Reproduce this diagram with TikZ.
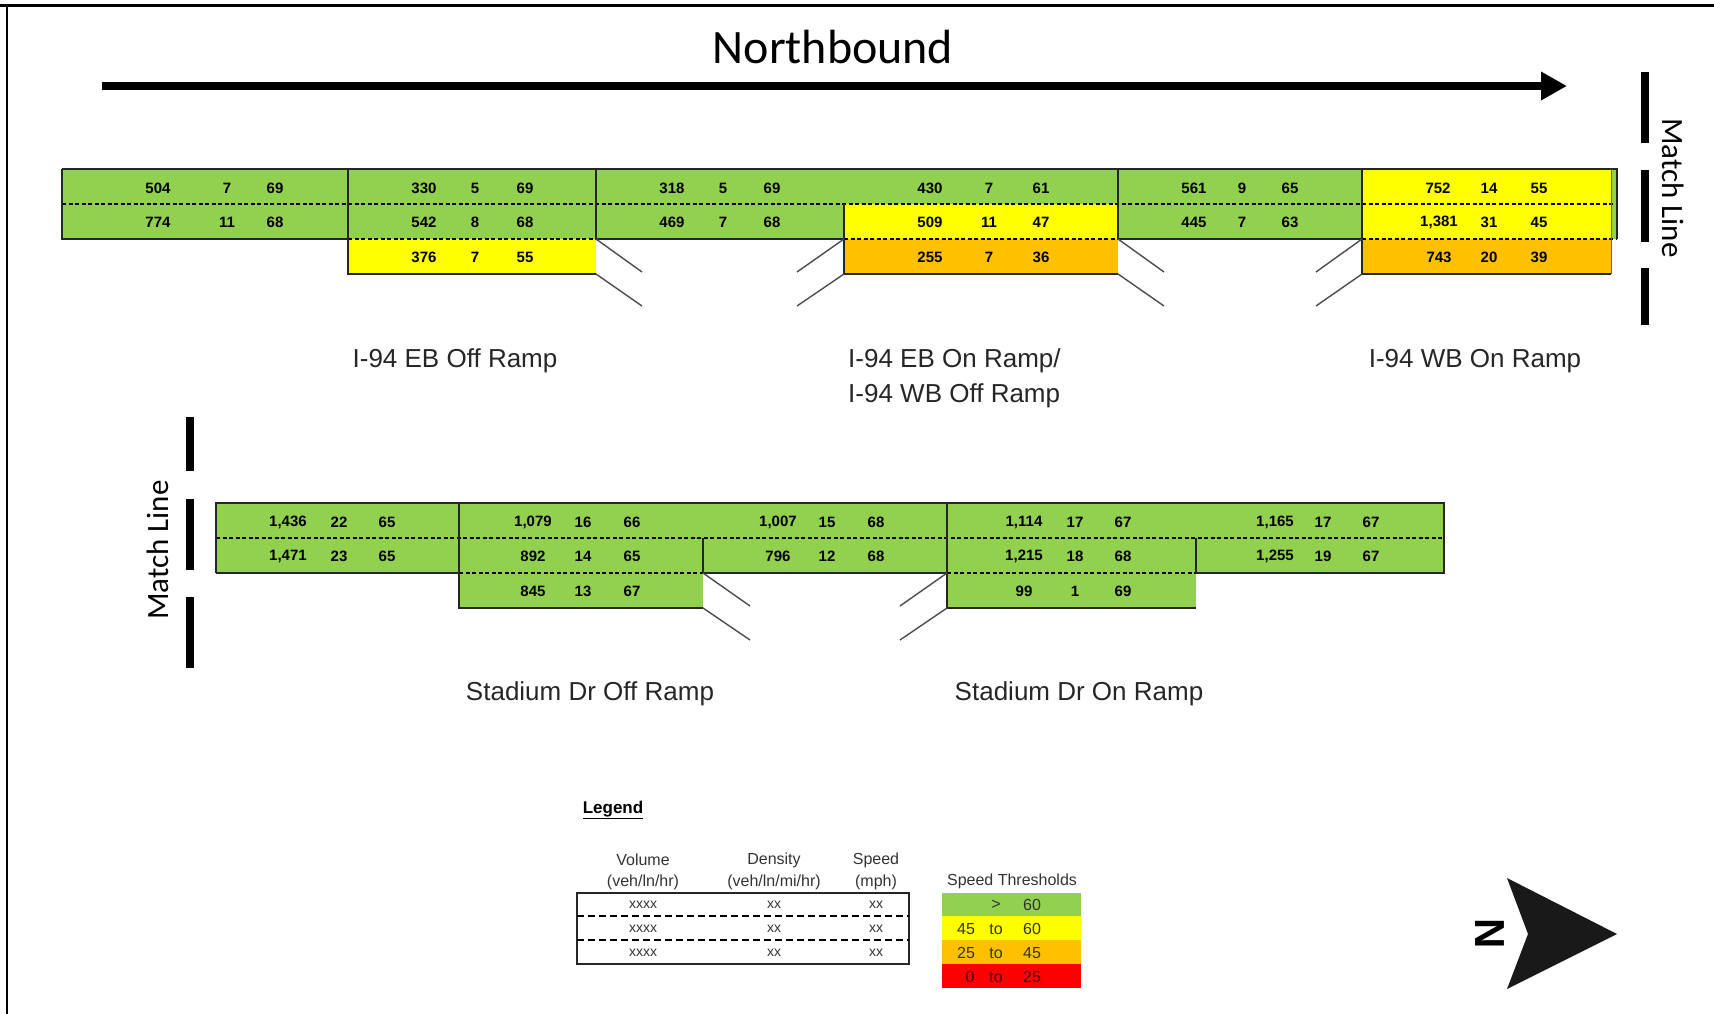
\documentclass[tikz,border=0pt]{standalone}
\usepackage{fontspec}
\setmainfont{Liberation Sans}
\newfontfamily\calibri{Carlito}
\usepackage{xcolor}
\usepackage{tikz}
\usetikzlibrary{arrows.meta}

\definecolor{spdgreen}{HTML}{92D050}
\definecolor{spdyellow}{HTML}{FFFF00}
\definecolor{spdorange}{HTML}{FFC000}
\definecolor{spdred}{HTML}{FF0000}

\begin{document}
\begin{tikzpicture}[
        x=1pt, y=-1pt,
        outline/.style={line width=1.8pt, black!85},
        thinline/.style={line width=1pt, black!60},
        lane/.style={line width=1.3pt, black, dash pattern=on 4pt off 2.5pt},
        ramp/.style={line width=1.4pt, black!70},
        val/.style={inner sep=0pt, font={\bfseries\fontsize{15}{17}\selectfont}},
        ramplabel/.style={inner sep=0pt, text=black!85, font={\fontsize{26}{35}\selectfont}},
        legtext/.style={inner sep=0pt, text=black!80, font={\fontsize{16}{18}\selectfont}},
        matchbar/.style={line width=8pt},
        matchtext/.style={inner sep=0pt, font={\calibri\fontsize{31}{34}\selectfont}}
    ]
        \useasboundingbox (0,0) rectangle (1714,1014);

        % Page frame
        \draw[line width=2.5pt] (0,5.5) -- (1714,5.5);
        \draw[line width=2.5pt] (7,5.5) -- (7,1014);

        % Direction
        \node (nb) [inner sep=0pt, font={\calibri\fontsize{48}{52}\selectfont}] at (833,47) {Northbound};
        \draw[line width=8pt, -{Triangle[length=26pt, width=27pt]}] (102,86) -- (1567,86);

        % Match lines
        \foreach \ya/\yb in {72/143, 170/242, 268/325} \draw[matchbar] (1645,\ya) -- (1645,\yb);
        \node (mlA) [matchtext, rotate=-90] at (1673,188) {Match Line};
        \foreach \ya/\yb in {417/471, 499/570, 597/668} \draw[matchbar] (190,\ya) -- (190,\yb);
        \node (mlB) [matchtext, rotate=90] at (158,550) {Match Line};

        % Upper segment - speed colours
        \fill[spdgreen] (62,169) rectangle (596,239);
        \fill[spdgreen] (596,169) rectangle (1118,204);
        \fill[spdgreen] (596,204) rectangle (844,239);
        \fill[spdgreen] (1118,169) rectangle (1362,239);
        \fill[spdgreen] (1611,169) rectangle (1617,239);
        \fill[spdyellow] (348,239) rectangle (596,274);
        \fill[spdyellow] (844,204) rectangle (1118,239);
        \fill[spdyellow] (1362,169) rectangle (1611,239);
        \fill[spdorange] (844,239) rectangle (1118,274);
        \fill[spdorange] (1362,239) rectangle (1611,274);

        % Upper segment - lane lines
        \draw[lane] (62,204) -- (1617,204);
        \draw[lane] (348,239) -- (596,239);
        \draw[lane] (844,239) -- (1118,239);
        \draw[lane] (1362,239) -- (1617,239);
        \draw[outline] (62,169) -- (1617,169) -- (1617,239);
        \draw[outline] (348,274) -- (348,239) -- (62,239) -- (62,169);
        \draw[outline] (348,169) -- (348,274) -- (596,274);
        \draw[outline] (596,169) -- (596,239) -- (844,239);
        \draw[outline] (844,204) -- (844,274) -- (1118,274);
        \draw[outline] (1118,169) -- (1118,239) -- (1362,239);
        \draw[outline] (1362,169) -- (1362,274) -- (1611,274);
        \draw[thinline] (1611,169) -- (1611,274);

        % Upper segment - ramps
        \draw[ramp] (596,239) -- (642,272);
        \draw[ramp] (596,274) -- (642,306);
        \draw[ramp] (844,239) -- (797,272);
        \draw[ramp] (844,274) -- (797,306);
        \draw[ramp] (1118,239) -- (1164,272);
        \draw[ramp] (1118,274) -- (1164,306);
        \draw[ramp] (1362,239) -- (1316,272);
        \draw[ramp] (1362,274) -- (1316,306);

        % Lower segment - speed colours
        \fill[spdgreen] (216,503) rectangle (1444,573);
        \fill[spdgreen] (459,573) rectangle (703,608);
        \fill[spdgreen] (947,573) rectangle (1196,608);

        % Lower segment - lane lines
        \draw[lane] (216,538) -- (1444,538);
        \draw[lane] (459,573) -- (703,573);
        \draw[lane] (947,573) -- (1196,573);
        \draw[outline] (216,573) -- (216,503) -- (1444,503) -- (1444,573) -- (1196,573);
        \draw[outline] (216,573) -- (459,573);
        \draw[outline] (459,503) -- (459,608) -- (703,608);
        \draw[outline] (703,538) -- (703,573) -- (947,573);
        \draw[outline] (947,503) -- (947,608) -- (1196,608);
        \draw[outline] (1196,538) -- (1196,573);

        % Lower segment - ramps
        \draw[ramp] (703,573) -- (750,606);
        \draw[ramp] (703,608) -- (750,640);
        \draw[ramp] (947,573) -- (900,606);
        \draw[ramp] (947,608) -- (900,640);

        % Volume / density / speed values
        \foreach \xa/\xb/\xc/\yy/\va/\vb/\vc [count=\n] in {
            158/227/275/188/504/7/69, 424/475/525/188/330/5/69, 672/723/772/188/318/5/69,
            930/989/1041/188/430/7/61, 1194/1242/1290/188/561/9/65, 1438/1489/1539/188/752/14/55,
            158/227/275/222/774/11/68, 424/475/525/222/542/8/68, 672/723/772/222/469/7/68,
            930/989/1041/222/509/11/47, 1194/1242/1290/222/445/7/63, 1439/1489/1539/222/{1,381}/31/45,
            424/475/525/257/376/7/55, 930/989/1041/257/255/7/36, 1439/1489/1539/257/743/20/39,
            288/339/387/522/{1,436}/22/65, 533/583/632/522/{1,079}/16/66, 778/827/876/522/{1,007}/15/68,
            1024/1075/1123/522/{1,114}/17/67, 1275/1323/1371/522/{1,165}/17/67,
            288/339/387/556/{1,471}/23/65, 533/583/632/556/892/14/65, 778/827/876/556/796/12/68,
            1024/1075/1123/556/{1,215}/18/68, 1275/1323/1371/556/{1,255}/19/67,
            533/583/632/591/845/13/67, 1024/1075/1123/591/99/1/69} {
            \node (vol\n) [val] at (\xa,\yy) {\va};
            \node (den\n) [val] at (\xb,\yy) {\vb};
            \node (spd\n) [val] at (\xc,\yy) {\vc};
        }

        % Ramp names
        \node (ebOff) [ramplabel] at (455,361) {I-94 EB Off Ramp};
        \node (ebOn) [ramplabel, anchor=west, align=left] at (848,378) {I-94 EB On Ramp/\\I-94 WB Off Ramp};
        \node (wbOn) [ramplabel] at (1475,361) {I-94 WB On Ramp};
        \node (sdOff) [ramplabel] at (590,694) {Stadium Dr Off Ramp};
        \node (sdOn) [ramplabel] at (1079,694) {Stadium Dr On Ramp};

        % Legend
        \node (leg) [inner sep=0pt, font={\bfseries\fontsize{17}{19}\selectfont}] at (613,810) {\underline{Legend}};
        \node (hVol) [legtext] at (643,860) {Volume};
        \node (uVol) [legtext] at (643,882) {(veh/ln/hr)};
        \node (hDen) [legtext] at (774,860) {Density};
        \node (uDen) [legtext] at (774,882) {(veh/ln/mi/hr)};
        \node (hSpd) [legtext] at (876,860) {Speed};
        \node (uSpd) [legtext] at (876,882) {(mph)};
        \draw[line width=2.2pt, black!85] (577,893) rectangle (909,964);
        \draw[line width=1.8pt, dash pattern=on 7pt off 4pt] (577,916) -- (909,916);
        \draw[line width=1.8pt, dash pattern=on 7pt off 4pt] (577,940) -- (909,940);
        \foreach \yy [count=\n] in {905,929,953} {
            \node (lx\n) [legtext, font={\fontsize{14}{16}\selectfont}] at (643,\yy) {xxxx};
            \node (ly\n) [legtext, font={\fontsize{14}{16}\selectfont}] at (774,\yy) {xx};
            \node (lz\n) [legtext, font={\fontsize{14}{16}\selectfont}] at (876,\yy) {xx};
        }

        % Speed thresholds
        \node (thr) [legtext] at (1012,881) {Speed Thresholds};
        \fill[spdgreen] (942,893) rectangle (1081,916);
        \fill[spdyellow] (942,916) rectangle (1081,940);
        \fill[spdorange] (942,940) rectangle (1081,964);
        \fill[spdred] (942,964) rectangle (1081,988);
        \node (t1b) [legtext] at (996,905) {>};
        \node (t1c) [legtext] at (1032,905) {60};
        \node (t2a) [legtext] at (966,929) {45};
        \node (t2b) [legtext] at (996,929) {to};
        \node (t2c) [legtext] at (1032,929) {60};
        \node (t3a) [legtext] at (966,953) {25};
        \node (t3b) [legtext] at (996,953) {to};
        \node (t3c) [legtext] at (1032,953) {45};
        \node (t4a) [legtext, text=black!75!red] at (970,977) {0};
        \node (t4b) [legtext, text=black!75!red] at (996,977) {to};
        \node (t4c) [legtext, text=black!75!red] at (1032,977) {25};

        % North arrow
        \fill[black!90] (1617,934) -- (1507,878) -- (1528,934) -- (1507,989) -- cycle;
        \node (north) [inner sep=0pt, rotate=-90, font={\bfseries\fontsize{42}{44}\selectfont}] at (1490,934) {N};
    \end{tikzpicture}
\end{document}
